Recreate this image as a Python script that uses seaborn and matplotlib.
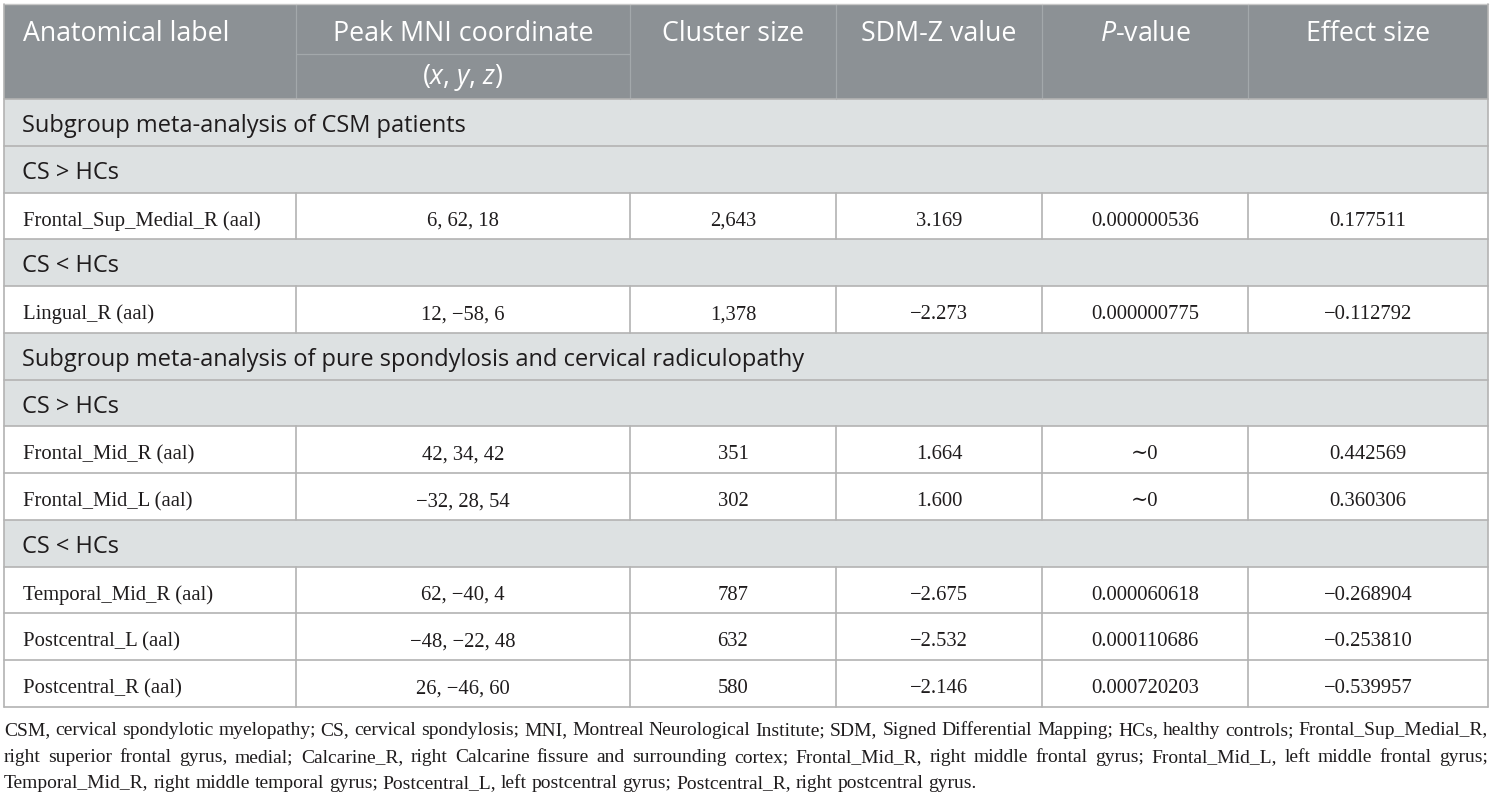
import matplotlib
matplotlib.use("Agg")
import matplotlib.pyplot as plt
from matplotlib.patches import Rectangle
import seaborn as sns

# ---------------- data ----------------
columns = ["Anatomical label", "Peak MNI coordinate", "Cluster size",
           "SDM-Z value", "$\\mathit{P}$-value", "Effect size"]
coord_subheader = "($\\mathit{x}$, $\\mathit{y}$, $\\mathit{z}$)"
sections = ["Subgroup meta-analysis of CSM patients",
            "Subgroup meta-analysis of pure spondylosis and cervical radiculopathy"]
contrasts = ["CS > HCs", "CS < HCs"]

regions = ["Frontal_Sup_Medial_R (aal)", "Lingual_R (aal)", "Frontal_Mid_R (aal)",
           "Frontal_Mid_L (aal)", "Temporal_Mid_R (aal)", "Postcentral_L (aal)",
           "Postcentral_R (aal)"]
peak_x = [6, 12, 42, -32, 62, -48, 26]
peak_y = [62, -58, 34, 28, -40, -22, -46]
peak_z = [18, 6, 42, 54, 4, 48, 60]
cluster_size = [2643, 1378, 351, 302, 787, 632, 580]
sdm_z = [3.169, -2.273, 1.664, 1.600, -2.675, -2.532, -2.146]
p_value = ["0.000000536", "0.000000775", "\u223c0", "\u223c0",
           "0.000060618", "0.000110686", "0.000720203"]
effect_size = [0.177511, -0.112792, 0.442569, 0.360306, -0.268904, -0.253810, -0.539957]

footnote_lines = [
    "CSM, cervical spondylotic myelopathy; CS, cervical spondylosis; MNI, Montreal Neurological Institute; "
    "SDM, Signed Differential Mapping; HCs, healthy controls; Frontal_Sup_Medial_R,",
    "right superior frontal gyrus, medial; Calcarine_R, right Calcarine fissure and surrounding cortex; "
    "Frontal_Mid_R, right middle frontal gyrus; Frontal_Mid_L, left middle frontal gyrus;",
    "Temporal_Mid_R, right middle temporal gyrus; Postcentral_L, left postcentral gyrus; "
    "Postcentral_R, right postcentral gyrus.",
]

# row sequence: (kind, index)
row_plan = [("section", 0), ("contrast", 0), ("data", 0), ("contrast", 1), ("data", 1),
            ("section", 1), ("contrast", 0), ("data", 2), ("data", 3), ("contrast", 1),
            ("data", 4), ("data", 5), ("data", 6)]

# ---------------- style ----------------
sns.set_theme(style="white")
SANS = ["Open Sans", "DejaVu Sans"]
SERIF = ["Liberation Serif", "DejaVu Serif"]
plt.rcParams["font.family"] = SANS
plt.rcParams["mathtext.fontset"] = "custom"
plt.rcParams["mathtext.rm"] = "Open Sans"
plt.rcParams["mathtext.it"] = "Open Sans:italic"

HEADER_BG = "#8c9195"
HEADER_LINE = "#a3a8ab"
SECTION_BG = "#dde1e2"
GRID = "#b3b3b3"
TXT = "#1f1c1d"

W, H, DPI = 1494, 797, 100
fig = plt.figure(figsize=(W / DPI, H / DPI), dpi=DPI)
ax = fig.add_axes([0, 0, 1, 1])
ax.set_xlim(0, W)
ax.set_ylim(H, 0)
ax.axis("off")
fig.canvas.draw()
renderer = fig.canvas.get_renderer()


def text_width(s, size, family):
    t = ax.text(0, 0, s, fontsize=size, family=family)
    w = t.get_window_extent(renderer).width
    t.remove()
    return w


sans_size = 16 * 781.5 / text_width(sections[1], 16, SANS)
head_size = 16 * 207 / text_width(columns[0], 16, SANS)
serif_size = 15 * 239 / text_width(regions[0], 15, SERIF)
foot_size = 14 * 975 / text_width(footnote_lines[2], 14, SERIF)

col_edges = [4, 296, 630, 836, 1042, 1248, 1488]
top, head_mid, head_bot, bottom = 4, 54, 99, 707
row_h = (bottom - head_bot) / len(row_plan)


def fmt_minus(s):
    return s.replace("-", "\u2212")


# header
ax.add_patch(Rectangle((col_edges[0], top), col_edges[-1] - col_edges[0], head_bot - top,
                       facecolor=HEADER_BG, edgecolor="none", zorder=1))
for xe in col_edges[1:-1]:
    ax.plot([xe, xe], [top, head_bot], color=HEADER_LINE, lw=0.9, zorder=2)
ax.plot([col_edges[1], col_edges[2]], [head_mid, head_mid], color=HEADER_LINE, lw=0.9, zorder=2)
for i, name in enumerate(columns):
    if i == 0:
        ax.text(col_edges[0] + 19, 40.5, name, ha="left", va="baseline", color="white",
                fontsize=head_size, family=SANS, zorder=3)
    else:
        ax.text((col_edges[i] + col_edges[i + 1]) / 2, 40.5, name, ha="center", va="baseline",
                color="white", fontsize=head_size, family=SANS, zorder=3)
ax.text((col_edges[1] + col_edges[2]) / 2, 84, coord_subheader, ha="center", va="baseline",
        color="white", fontsize=head_size, family=SANS, zorder=3)

# body rows
for r, (kind, idx) in enumerate(row_plan):
    y0 = head_bot + r * row_h
    base = y0 + 33
    if kind in ("section", "contrast"):
        ax.add_patch(Rectangle((col_edges[0], y0), col_edges[-1] - col_edges[0], row_h,
                               facecolor=SECTION_BG, edgecolor="none", zorder=1))
        label = sections[idx] if kind == "section" else contrasts[idx]
        ax.text(col_edges[0] + 18, base, label, ha="left", va="baseline", color=TXT,
                fontsize=sans_size, family=SANS, zorder=3)
    else:
        for xe in col_edges[1:-1]:
            ax.plot([xe, xe], [y0, y0 + row_h], color=GRID, lw=1.2, zorder=2)
        cells = [
            regions[idx],
            fmt_minus(f"{peak_x[idx]}, {peak_y[idx]}, {peak_z[idx]}"),
            f"{cluster_size[idx]:,}",
            fmt_minus(f"{sdm_z[idx]:.3f}"),
            p_value[idx],
            fmt_minus(f"{effect_size[idx]:.6f}"),
        ]
        for i, c in enumerate(cells):
            if i == 0:
                ax.text(col_edges[0] + 19, base, c, ha="left", va="baseline", color=TXT,
                        fontsize=serif_size, family=SERIF, zorder=3)
            else:
                ax.text((col_edges[i] + col_edges[i + 1]) / 2, base, c, ha="center",
                        va="baseline", color=TXT, fontsize=serif_size, family=SERIF, zorder=3)
    ax.plot([col_edges[0], col_edges[-1]], [y0, y0], color=GRID, lw=1.2, zorder=2)

# outer border
ax.plot([col_edges[0], col_edges[-1]], [bottom, bottom], color=GRID, lw=1.2, zorder=2)
ax.plot([col_edges[0], col_edges[-1]], [top, top], color="#c8c8c8", lw=1.0, zorder=2)
ax.plot([col_edges[0], col_edges[0]], [top, bottom], color=GRID, lw=1.2, zorder=2)
ax.plot([col_edges[-1], col_edges[-1]], [top, bottom], color=GRID, lw=1.2, zorder=2)

# footnote (justified)
foot_base = [735, 762, 788]
for li, line in enumerate(footnote_lines):
    words = line.split(" ")
    widths = [text_width(wd, foot_size, SERIF) for wd in words]
    if li < len(footnote_lines) - 1:
        gap = (col_edges[-1] - col_edges[0] - sum(widths)) / (len(words) - 1)
    else:
        gap = text_width("a a", foot_size, SERIF) - text_width("aa", foot_size, SERIF)
    x = col_edges[0]
    for wd, wdt in zip(words, widths):
        ax.text(x, foot_base[li], wd, ha="left", va="baseline", color=TXT,
                fontsize=foot_size, family=SERIF)
        x += wdt + gap

fig.savefig("out.png", dpi=DPI)
